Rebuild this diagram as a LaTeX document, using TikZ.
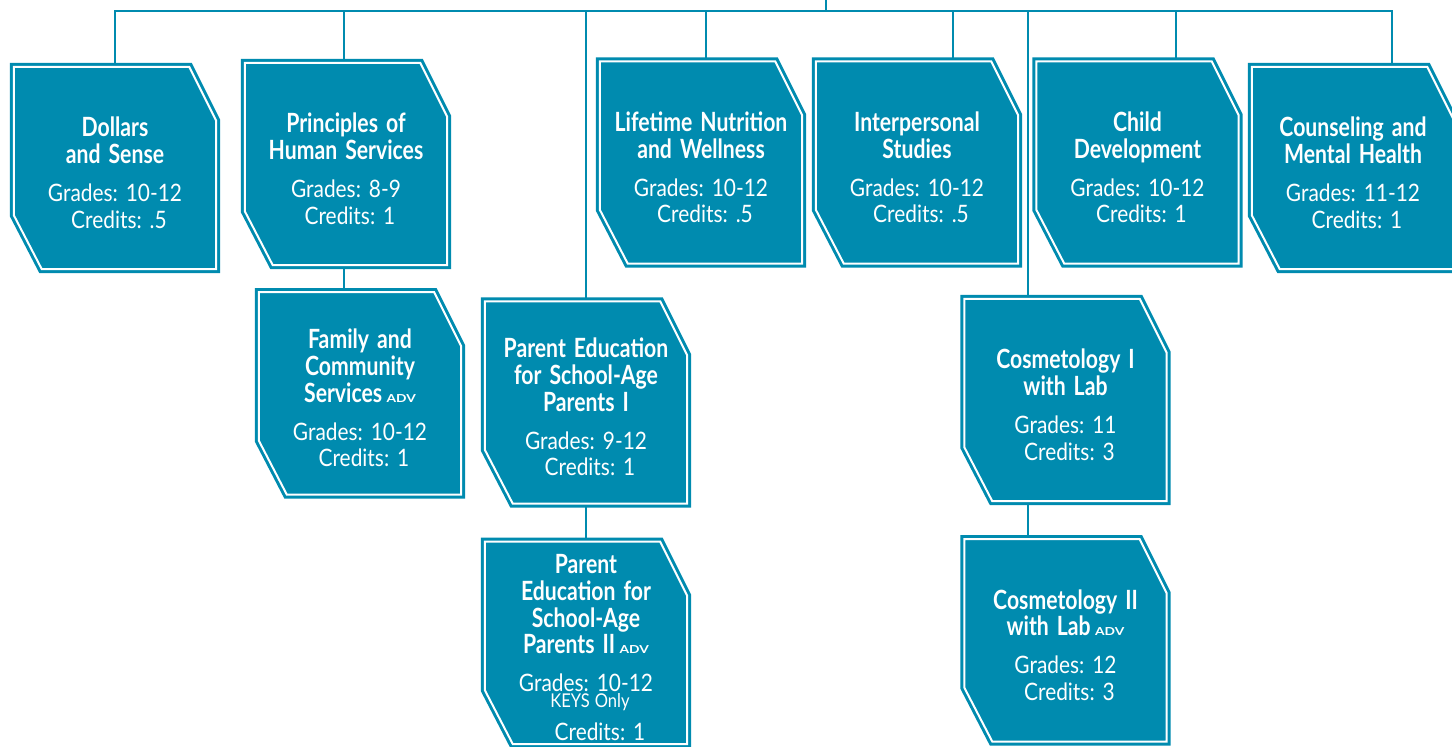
\documentclass[tikz,border=0pt]{standalone}
\usepackage{fontspec}
\setmainfont{Lato}[FakeStretch=0.87]
\newfontfamily\titlefont{Lato}[FakeStretch=0.8]
\newfontfamily\advfont{Lato}[FakeStretch=1.25]
\usetikzlibrary{positioning,backgrounds}

\definecolor{fcsblue}{RGB}{0,139,175}

% course title, then the grades and credits lines
\newcommand{\ctitle}[1]{{\titlefont\bfseries\fontsize{26.5}{26.7}\selectfont\rule{0pt}{29pt}#1\par}\vspace{11.5pt}}
\newcommand{\adv}{\,{\advfont\fontsize{11}{11}\selectfont ADV}}
\newcommand{\cinfo}[2]{Grades: #1\\\hspace*{8pt}Credits: #2}

\begin{document}
\begin{tikzpicture}[
            x = 1pt, y = -1pt, % pixel grid, y going down
            course/.style = {minimum width=202pt, minimum height=202pt, inner sep=0pt,
                             text width=200pt, align=center, text=white,
                             font=\fontsize{24}{26.5}\selectfont\frenchspacing},
            frame/.style = {draw=fcsblue, fill=fcsblue, line width=3pt,
                            double=white, double distance=2pt}, % outline, white line, fill
            link/.style = {draw=fcsblue, line width=2.5pt}
        ]
	\useasboundingbox (0,0) rectangle (1452,747);

	% first row
	\node[course] (dollars) at (115,168) {\ctitle{Dollars\\and Sense}\cinfo{10-12}{.5}};
	\node[course] (principles) at (346,164) {\ctitle{Principles of\\Human Services}\cinfo{8-9}{1}};
	\node[course] (lifetime) at (701,162.5) {\ctitle{Lifetime Nutrition\\and Wellness}\cinfo{10-12}{.5}};
	\node[course] (interpersonal) at (917,162.5) {\ctitle{Interpersonal\\Studies}\cinfo{10-12}{.5}};
	\node[course] (child) at (1137.5,162.5) {\ctitle{Child\\Development}\cinfo{10-12}{1}};
	\node[course] (counseling) at (1353,168) {\ctitle{Counseling and\\Mental Health}\cinfo{11-12}{1}};

	% second and third rows
	\node[course] (family) [below=27pt of principles, xshift=14pt] {\ctitle{Family and\\Community\\Services\adv}\cinfo{10-12}{1}};
	\node[course] (parentI) at (586,402.5) {\ctitle{Parent Education\\for School-Age\\Parents I}\cinfo{9-12}{1}};
	\node[course] (parentII) [below=38pt of parentI] {\ctitle{Parent\\Education for\\School-Age\\Parents II\adv}%
		Grades: 10-12\\[-11pt]\hspace*{8pt}{\fontsize{19}{19}\selectfont KEYS\hspace{-3pt} Only}\\[7pt]\hspace*{28pt}Credits: 1};
	\node[course] (cosmetI) at (1065.5,400) {\ctitle{Cosmetology I\\with Lab}\cinfo{11}{3}};
	\node[course] (cosmetII) [below=38pt of cosmetI] {\ctitle{Cosmetology II\\with Lab\adv}\cinfo{12}{3}};

	\begin{scope}[on background layer]
		\coordinate (root) at (826,0);
		\foreach \x/\n in {115/dollars, 344/principles, 586/parentI, 706/lifetime,
		                   953/interpersonal, 1028/cosmetI, 1176/child, 1392/counseling}
			\coordinate (d\n) at (\x,11);

		\draw[link] (root) -- (root |- ddollars);
		\draw[link] (dollars.north) -- (ddollars) -- (dcounseling) -- (dcounseling |- counseling.north);
		\foreach \n in {principles, parentI, lifetime, interpersonal, cosmetI, child}
			\draw[link] (d\n) -- (d\n |- \n.north);
		\draw[link] (dprinciples |- principles.south) -- (dprinciples |- family.north);
		\draw[link] (parentI.south) -- (parentII.north);
		\draw[link] (dcosmetI |- cosmetI.south) -- (dcosmetI |- cosmetII.north);

		% chamfered boxes behind the texts
		\foreach \n in {dollars, principles, family, parentI, parentII, lifetime,
		                interpersonal, child, counseling, cosmetI, cosmetII}
			\draw[frame] (\n.north west) -- ([xshift=-27pt]\n.north east)
				-- ([yshift=-54pt]\n.north east) -- (\n.south east)
				-- ([xshift=28pt]\n.south west) -- ([yshift=54pt]\n.south west) -- cycle;
	\end{scope}

\end{tikzpicture}
\end{document}
